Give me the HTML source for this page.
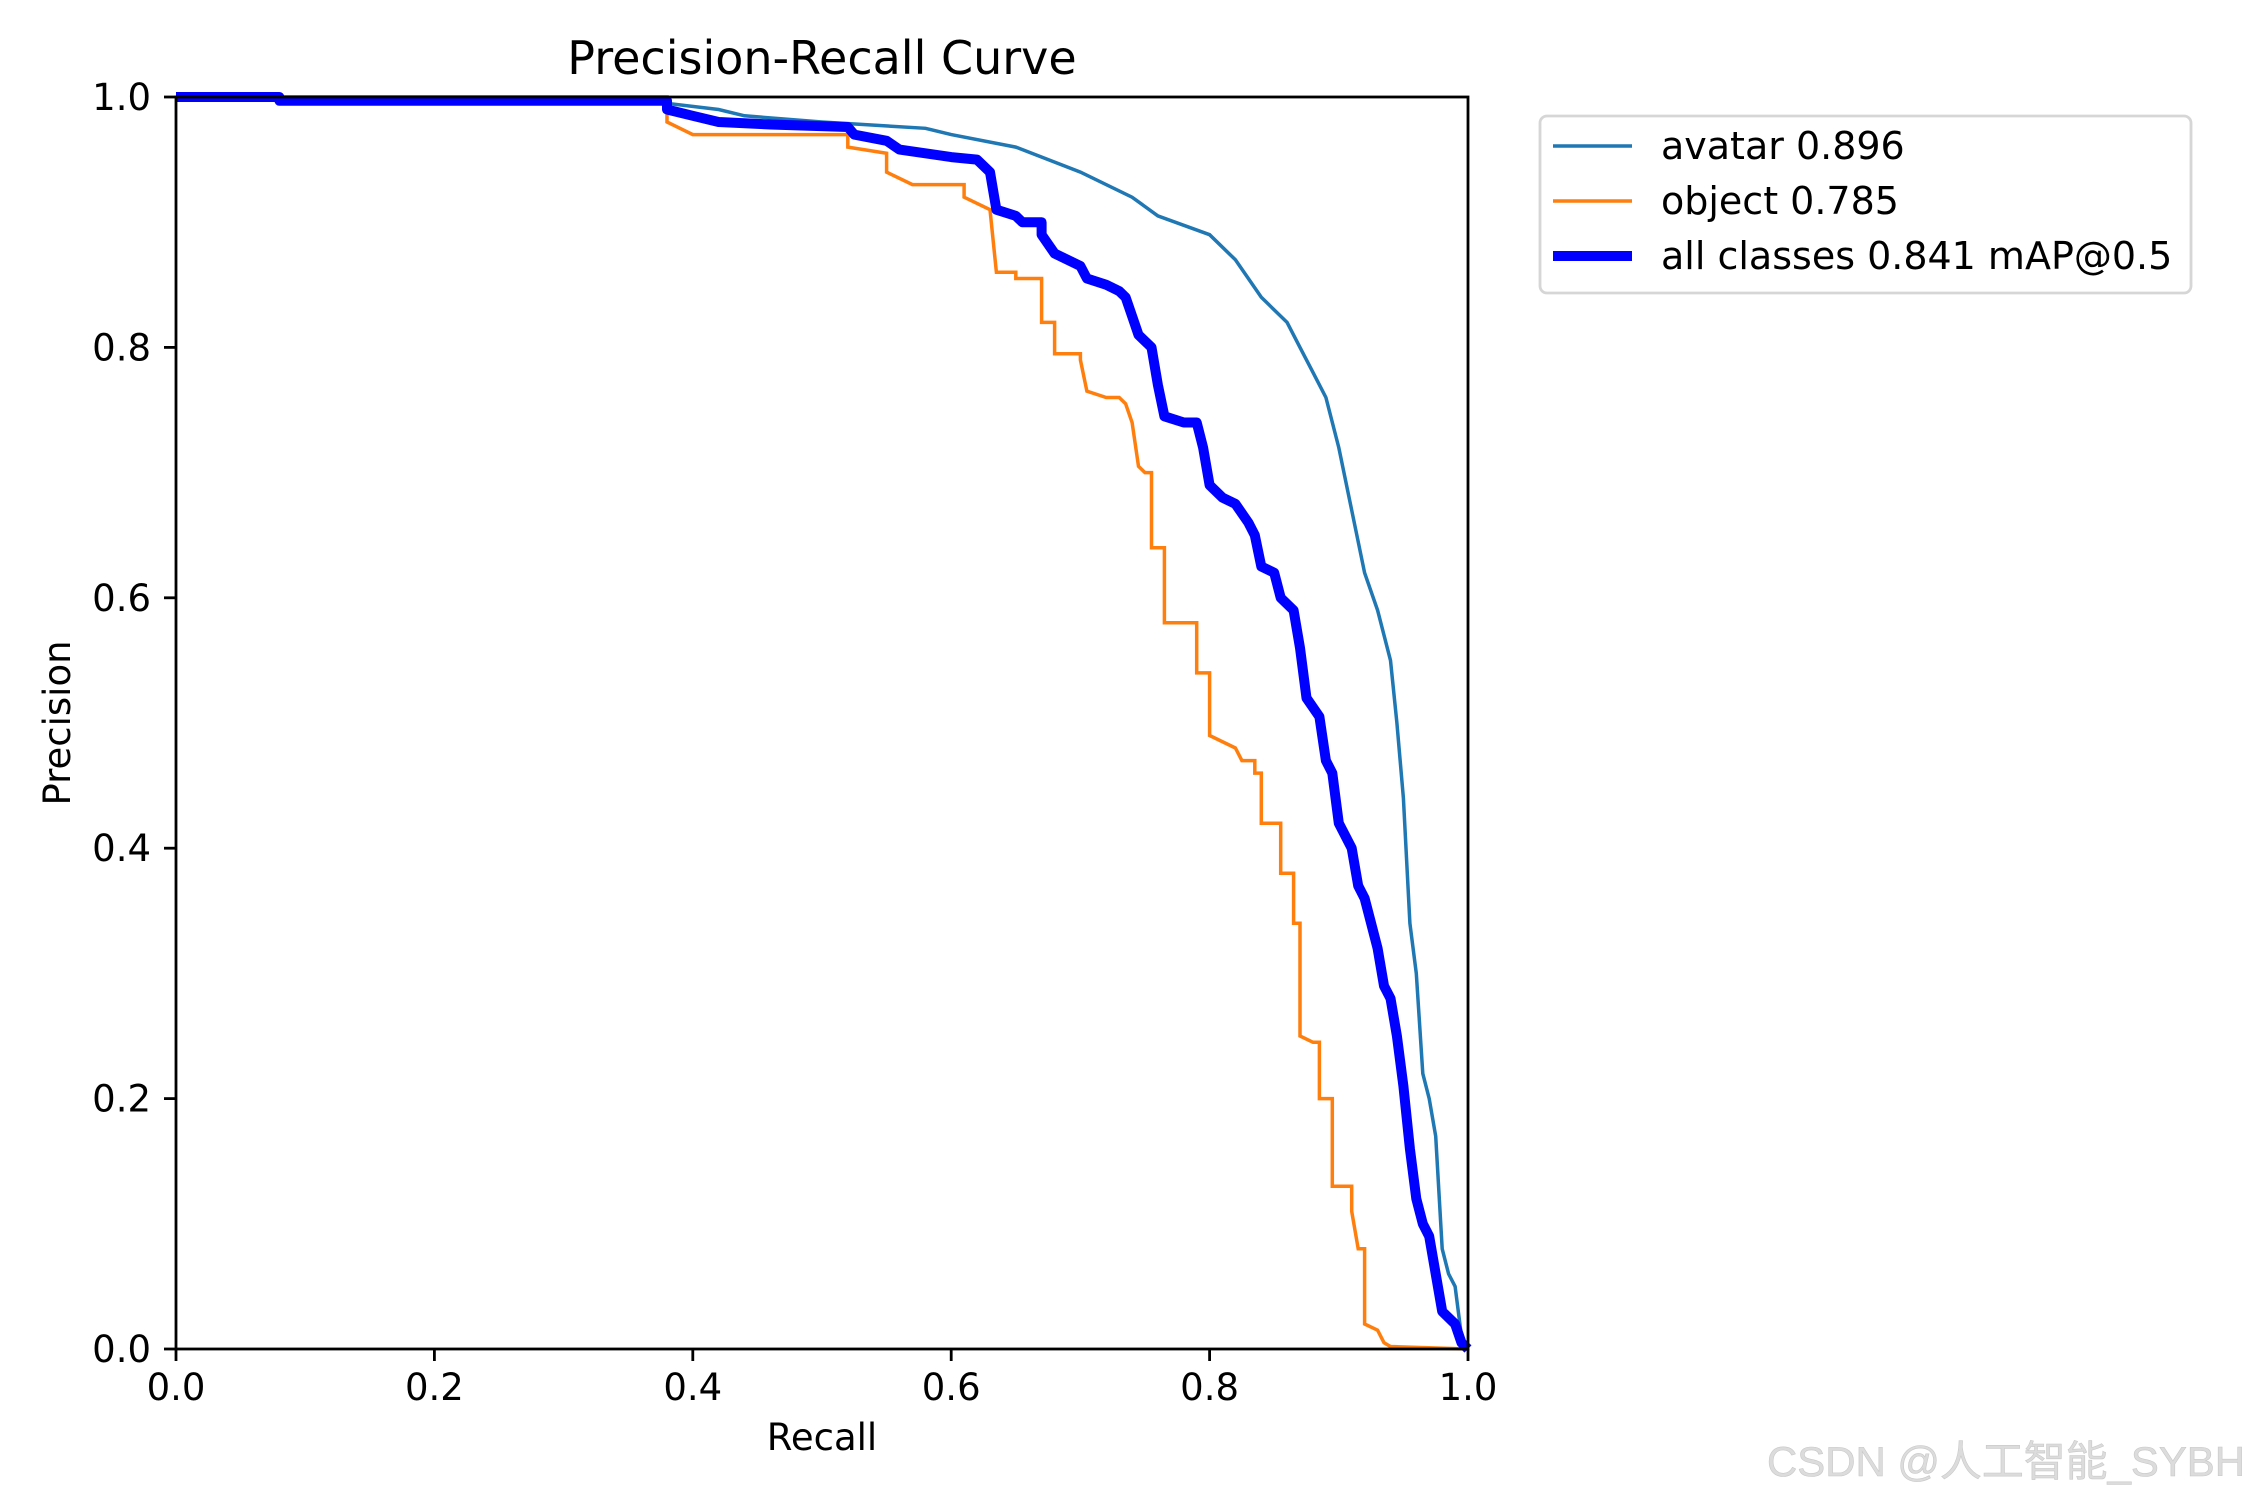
<!DOCTYPE html>
<html><head><meta charset="utf-8"><style>
html,body{margin:0;padding:0;background:#fff;}
svg{display:block;}
text{font-family:"DejaVu Sans","Liberation Sans",sans-serif;}
</style></head><body>
<svg id="s" width="2250" height="1500" viewBox="0 0 2250 1500" xmlns="http://www.w3.org/2000/svg">
<rect width="2250" height="1500" fill="#fff"/>
<g id="curves"></g>
<rect x="176" y="97" width="1292" height="1252" fill="none" stroke="#000" stroke-width="2.8"/>
<g stroke="#000" stroke-width="2.8">
<line x1="176" y1="1349" x2="176" y2="1361"/><line x1="434.4" y1="1349" x2="434.4" y2="1361"/><line x1="692.8" y1="1349" x2="692.8" y2="1361"/><line x1="951.2" y1="1349" x2="951.2" y2="1361"/><line x1="1209.6" y1="1349" x2="1209.6" y2="1361"/><line x1="1468" y1="1349" x2="1468" y2="1361"/>
<line x1="164" y1="1349" x2="176" y2="1349"/><line x1="164" y1="1098.6" x2="176" y2="1098.6"/><line x1="164" y1="848.2" x2="176" y2="848.2"/><line x1="164" y1="597.8" x2="176" y2="597.8"/><line x1="164" y1="347.4" x2="176" y2="347.4"/><line x1="164" y1="97" x2="176" y2="97"/>
</g>
<g font-size="37" text-anchor="middle" fill="#000">
<text x="176" y="1400">0.0</text><text x="434.4" y="1400">0.2</text><text x="692.8" y="1400">0.4</text><text x="951.2" y="1400">0.6</text><text x="1209.6" y="1400">0.8</text><text x="1468" y="1400">1.0</text>
</g>
<g font-size="37" text-anchor="end" fill="#000">
<text x="151" y="1362">0.0</text><text x="151" y="1111.6">0.2</text><text x="151" y="861.2">0.4</text><text x="151" y="610.8">0.6</text><text x="151" y="360.4">0.8</text><text x="151" y="110">1.0</text>
</g>
<text x="822" y="74" font-size="46" text-anchor="middle">Precision-Recall Curve</text>
<text x="822" y="1450" font-size="37" text-anchor="middle">Recall</text>
<text transform="translate(70,723) rotate(-90)" font-size="37" text-anchor="middle">Precision</text>
<rect x="1540" y="116" width="651" height="177" rx="7" fill="#fff" stroke="#d6d6d6" stroke-width="2.8"/>
<line x1="1553" y1="146" x2="1632" y2="146" stroke="#1f77b4" stroke-width="3.5"/>
<line x1="1553" y1="201" x2="1632" y2="201" stroke="#ff7f0e" stroke-width="3.5"/>
<line x1="1553" y1="256" x2="1632" y2="256" stroke="#0000ff" stroke-width="10"/>
<g font-size="38" fill="#000">
<text x="1661" y="159">avatar 0.896</text>
<text x="1661" y="214">object 0.785</text>
<text x="1661" y="269">all classes 0.841 mAP@0.5</text>
</g>
<text x="1767" y="1476" font-size="42" fill="#dcdcdc" stroke="#c8c8c8" stroke-width="0.6" textLength="478" lengthAdjust="spacingAndGlyphs" style='font-family:"Liberation Sans","Noto Sans CJK SC",sans-serif'>CSDN @人工智能_SYBH</text>
</svg>
<script>
function P(a){return a.map(function(p){return (176+p[0]*1292).toFixed(1)+","+(1349-p[1]*1252).toFixed(1)}).join(" ");}
var av=[[0,1],[0.38,1],[0.38,0.995],[0.42,0.99],[0.44,0.985],[0.5,0.98],[0.58,0.975],[0.6,0.97],[0.65,0.96],[0.7,0.94],[0.74,0.92],[0.76,0.905],[0.8,0.89],[0.82,0.87],[0.84,0.84],[0.86,0.82],[0.87,0.8],[0.88,0.78],[0.89,0.76],[0.9,0.72],[0.91,0.67],[0.92,0.62],[0.93,0.59],[0.94,0.55],[0.945,0.5],[0.95,0.44],[0.955,0.34],[0.96,0.3],[0.965,0.22],[0.97,0.2],[0.975,0.17],[0.98,0.08],[0.985,0.06],[0.99,0.05],[0.995,0.01],[1,0]];
var ob=[[0,1],[0.38,1],[0.38,0.98],[0.4,0.97],[0.52,0.97],[0.52,0.96],[0.55,0.955],[0.55,0.94],[0.57,0.93],[0.61,0.93],[0.61,0.92],[0.63,0.91],[0.635,0.86],[0.65,0.86],[0.65,0.855],[0.67,0.855],[0.67,0.82],[0.68,0.82],[0.68,0.795],[0.7,0.795],[0.7,0.79],[0.705,0.765],[0.72,0.76],[0.73,0.76],[0.735,0.755],[0.74,0.74],[0.745,0.705],[0.75,0.7],[0.755,0.7],[0.755,0.64],[0.765,0.64],[0.765,0.58],[0.79,0.58],[0.79,0.54],[0.8,0.54],[0.8,0.49],[0.82,0.48],[0.825,0.47],[0.835,0.47],[0.835,0.46],[0.84,0.46],[0.84,0.42],[0.855,0.42],[0.855,0.38],[0.865,0.38],[0.865,0.34],[0.87,0.34],[0.87,0.25],[0.88,0.245],[0.885,0.245],[0.885,0.2],[0.895,0.2],[0.895,0.13],[0.91,0.13],[0.91,0.11],[0.915,0.08],[0.92,0.08],[0.92,0.02],[0.93,0.015],[0.935,0.005],[0.94,0.002],[1,0]];
var al=[[0,1],[0.08,1],[0.08,0.997],[0.38,0.997],[0.38,0.99],[0.4,0.985],[0.42,0.98],[0.46,0.978],[0.52,0.976],[0.525,0.97],[0.55,0.965],[0.56,0.958],[0.58,0.955],[0.6,0.952],[0.62,0.95],[0.63,0.94],[0.635,0.91],[0.65,0.905],[0.655,0.9],[0.67,0.9],[0.67,0.89],[0.68,0.875],[0.7,0.865],[0.705,0.855],[0.72,0.85],[0.73,0.845],[0.735,0.84],[0.74,0.825],[0.745,0.81],[0.755,0.8],[0.76,0.77],[0.765,0.745],[0.78,0.74],[0.79,0.74],[0.795,0.72],[0.8,0.69],[0.81,0.68],[0.82,0.675],[0.83,0.66],[0.835,0.65],[0.84,0.625],[0.85,0.62],[0.855,0.6],[0.865,0.59],[0.87,0.56],[0.875,0.52],[0.885,0.505],[0.89,0.47],[0.895,0.46],[0.9,0.42],[0.91,0.4],[0.915,0.37],[0.92,0.36],[0.925,0.34],[0.93,0.32],[0.935,0.29],[0.94,0.28],[0.945,0.25],[0.95,0.21],[0.955,0.16],[0.96,0.12],[0.965,0.1],[0.97,0.09],[0.975,0.06],[0.98,0.03],[0.99,0.02],[0.995,0.005],[1,0]];
var g=document.getElementById("curves");
g.innerHTML='<polyline fill="none" stroke="#1f77b4" stroke-width="3.5" points="'+P(av)+'"/>'+
'<polyline fill="none" stroke="#ff7f0e" stroke-width="3.5" points="'+P(ob)+'"/>'+
'<polyline fill="none" stroke="#0000ff" stroke-width="10" stroke-linejoin="round" points="'+P(al)+'"/>';
</script>
</body></html>
